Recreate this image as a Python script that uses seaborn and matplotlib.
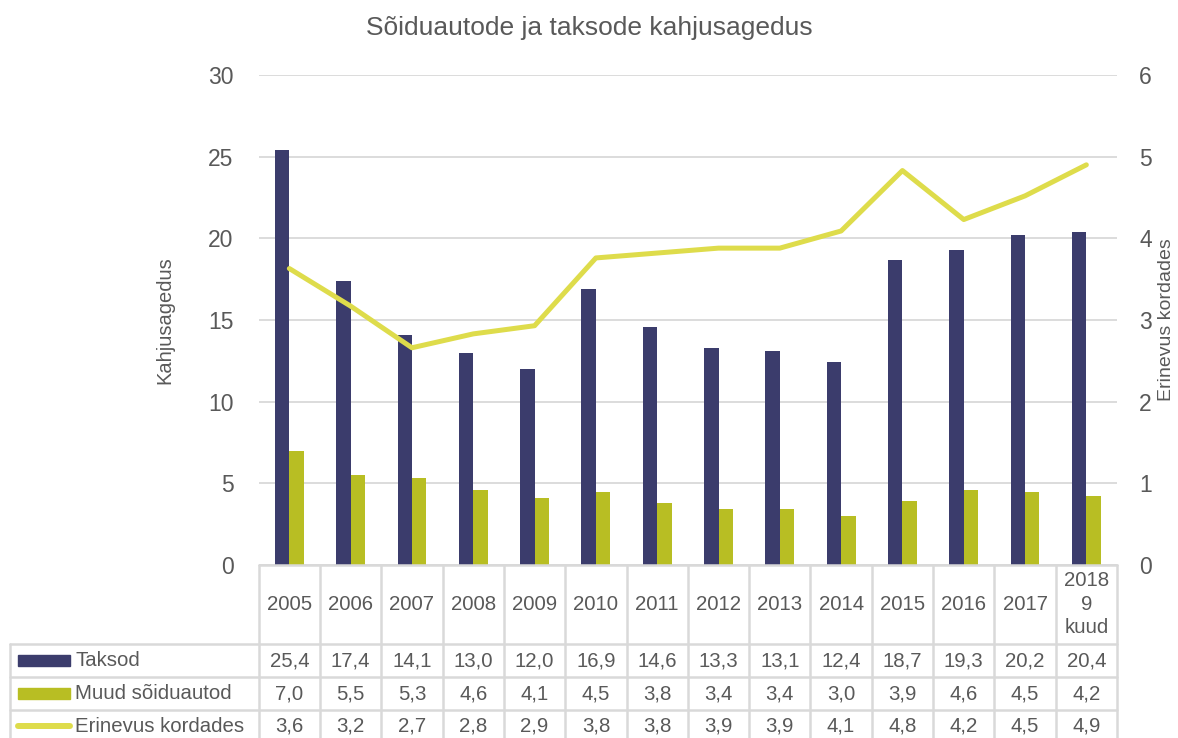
import numpy as np
import pandas as pd
import seaborn as sns
import matplotlib
matplotlib.use("Agg")
import matplotlib.pyplot as plt
from matplotlib.lines import Line2D
from matplotlib.patches import Rectangle

# ---------------- data ----------------
categories = ["2005", "2006", "2007", "2008", "2009", "2010", "2011", "2012",
              "2013", "2014", "2015", "2016", "2017", "2018\n9\nkuud"]
taksod = [25.4, 17.4, 14.1, 13.0, 12.0, 16.9, 14.6, 13.3, 13.1, 12.4, 18.7, 19.3, 20.2, 20.4]
muud = [7.0, 5.5, 5.3, 4.6, 4.1, 4.5, 3.8, 3.4, 3.4, 3.0, 3.9, 4.6, 4.5, 4.2]
erinevus = [3.63, 3.17, 2.66, 2.83, 2.93, 3.76, 3.82, 3.88, 3.88, 4.09, 4.83, 4.23, 4.52, 4.90]
series_names = ["Taksod", "Muud sõiduautod", "Erinevus kordades"]
title = "Sõiduautode ja taksode kahjusagedus"
left_label = "Kahjusagedus"
right_label = "Erinevus kordades"

# ---------------- style ----------------
sns.set_theme(style="white")
plt.rcParams["font.family"] = ["Liberation Sans", "DejaVu Sans"]
TXT = "#595959"
GRID = "#D9D9D9"
NAVY = "#3B3C6C"
OLIVE = "#B8BE23"
YELLOW = "#DEDC4B"

W, H = 1178, 738
fig = plt.figure(figsize=(W / 100, H / 100), dpi=100)

def fx(px):
    return px / W

def fy(py):
    return 1 - py / H

# main axes: x 258.7 -> 1117, y 75 (top) -> 565 (bottom)
ax = fig.add_axes([fx(258.7), fy(565), fx(1117) - fx(258.7), (565 - 75) / H])

n = len(categories)
df = pd.DataFrame({
    "cat": list(range(n)) * 2,
    "value": taksod + muud,
    "series": [series_names[0]] * n + [series_names[1]] * n,
})
sns.barplot(data=df, x="cat", y="value", hue="series", palette=[NAVY, OLIVE],
            width=0.47, ax=ax, legend=False, saturation=1, linewidth=0)
ax.set_xlim(-0.5, n - 0.5)
ax.set_ylim(0, 30)
ax.set_yticks(np.arange(0, 31, 5))
ax.yaxis.grid(True, color=GRID, lw=1.3)
ax.set_axisbelow(True)
ax.set_xticks([])
ax.set_xlabel("")
ax.set_ylabel(left_label, fontsize=14.5, color=TXT, labelpad=24)
ax.tick_params(axis="y", length=0, labelsize=16.5, labelcolor=TXT, pad=18)
for s in ax.spines.values():
    s.set_visible(False)

ax2 = ax.twinx()
sns.lineplot(x=np.arange(n), y=erinevus, color=YELLOW, lw=3.6, ax=ax2)
ax2.set_ylim(0, 6)
ax2.set_yticks(np.arange(0, 7, 1))
ax2.tick_params(axis="y", length=0, labelsize=16.5, labelcolor=TXT, pad=16)
ax2.set_ylabel(right_label, fontsize=14, color=TXT, labelpad=4)
ax2.set_xlim(-0.5, n - 0.5)
for s in ax2.spines.values():
    s.set_visible(False)

fig.text(fx(589), fy(28), title, ha="center", va="center", fontsize=19, color=TXT)

# ---------------- data table ----------------
tab = fig.add_axes([0, 0, 1, 1], zorder=5)
tab.set_xlim(0, W)
tab.set_ylim(H, 0)
tab.axis("off")
tab.patch.set_alpha(0)

fig.canvas.draw()
def colx(v):
    return ax.transData.transform((v, 0))[0]

bounds = [colx(i - 0.5) for i in range(n + 1)]
centers = [colx(i) for i in range(n)]
left_edge = 10
y_top, y_h, r1, r2, r3, y_bot = 565, 644, 677.3, 710.3, 743.3, 744
lc = GRID
lw = 1.8
# horizontal lines
tab.add_line(Line2D([bounds[0], bounds[-1]], [y_top, y_top], color=lc, lw=lw))
for yy in (y_h, r1, r2):
    tab.add_line(Line2D([left_edge, bounds[-1]], [yy, yy], color=lc, lw=lw))
# vertical lines
for b in bounds:
    tab.add_line(Line2D([b, b], [y_top, y_bot], color=lc, lw=lw))
tab.add_line(Line2D([left_edge, left_edge], [y_h, y_bot], color=lc, lw=lw))

fs = 14.7
for c, lab in zip(centers, categories):
    tab.text(c, 604, lab, ha="center", va="center",
             fontsize=fs, color=TXT, linespacing=1.3)

def fmt(v):
    return f"{v:.1f}".replace(".", ",")

ky = [(y_h + r1) / 2, (r1 + r2) / 2, 726]
for vals, yy in zip((taksod, muud, erinevus), ky):
    for c, v in zip(centers, vals):
        tab.text(c, yy, fmt(v), ha="center", va="center", fontsize=fs, color=TXT)

# legend keys
tab.add_patch(Rectangle((18.3, ky[0] - 5.5), 51.7, 11, color=NAVY))
tab.add_patch(Rectangle((18.3, ky[1] - 5.5), 51.7, 11, color=OLIVE))
tab.add_line(Line2D([18, 70], [ky[2], ky[2]], color=YELLOW, lw=4.3, solid_capstyle="round"))
for name, yy in zip(series_names, ky):
    tab.text(75, yy, name, ha="left", va="center", fontsize=fs, color=TXT)

fig.savefig("out.png", dpi=100)
